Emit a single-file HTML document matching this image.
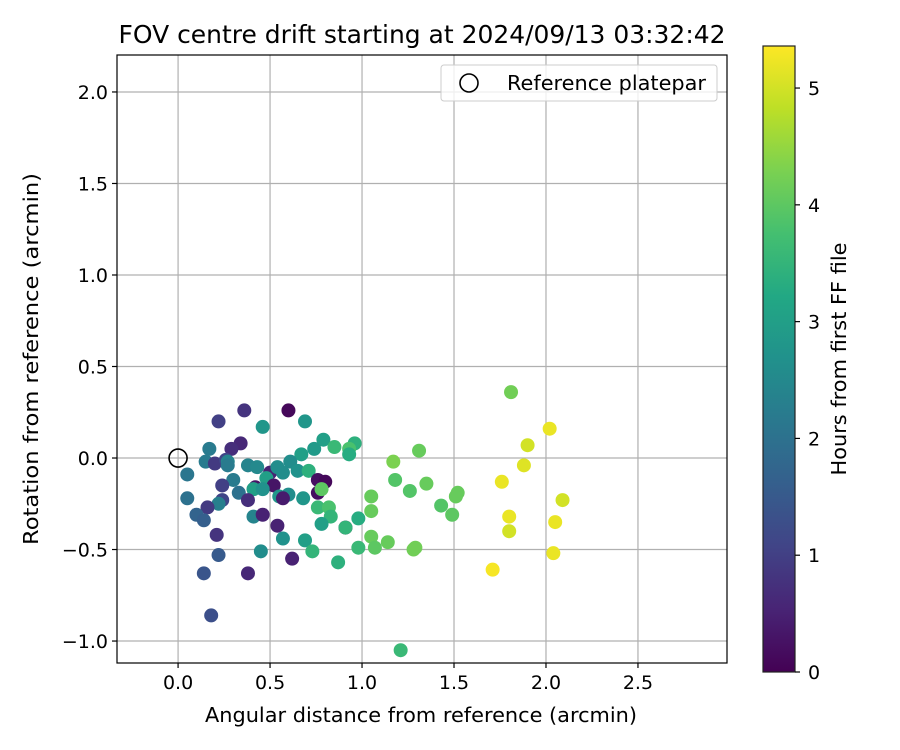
<!DOCTYPE html>
<html><head><meta charset="utf-8">
<style>
html,body{margin:0;padding:0;background:#fff;}
svg{display:block;font-family:"DejaVu Sans","Liberation Sans",sans-serif;}
</style></head>
<body>
<svg id="chart" width="900" height="750" viewBox="0 0 900 750" xmlns="http://www.w3.org/2000/svg">
<defs>
<linearGradient id="viridis" x1="0" y1="1" x2="0" y2="0">
<stop offset="0" stop-color="#440154"/><stop offset="0.1" stop-color="#482475"/><stop offset="0.2" stop-color="#414487"/><stop offset="0.3" stop-color="#355f8d"/><stop offset="0.4" stop-color="#2a788e"/><stop offset="0.5" stop-color="#21918c"/><stop offset="0.6" stop-color="#22a884"/><stop offset="0.7" stop-color="#44bf70"/><stop offset="0.8" stop-color="#7ad151"/><stop offset="0.9" stop-color="#bddf26"/><stop offset="1" stop-color="#fde725"/>
</linearGradient>
<clipPath id="plotclip"><rect x="117" y="55" width="610" height="608"/></clipPath>
</defs>
<text x="422" y="43" font-size="25" text-anchor="middle" textLength="607" lengthAdjust="spacingAndGlyphs">FOV centre drift starting at 2024/09/13 03:32:42</text>
<g id="grid"></g>
<g id="points" clip-path="url(#plotclip)"></g>
<rect x="117" y="55" width="610" height="608" fill="none" stroke="#000" stroke-width="1.2"/>
<g id="ticks"></g>
<text x="421" y="722" font-size="20.5" text-anchor="middle" textLength="432" lengthAdjust="spacingAndGlyphs">Angular distance from reference (arcmin)</text>
<text transform="translate(38,359) rotate(-90)" font-size="20.5" text-anchor="middle" textLength="372" lengthAdjust="spacingAndGlyphs">Rotation from reference (arcmin)</text>
<g>
<rect x="441" y="65" width="276" height="36" rx="3" fill="#fff" fill-opacity="0.8" stroke="#ccc"/>
<circle cx="469" cy="83" r="9" fill="none" stroke="#000" stroke-width="1.6"/>
<text x="507" y="90" font-size="20" textLength="199" lengthAdjust="spacingAndGlyphs">Reference platepar</text>
</g>
<g>
<rect x="763" y="46" width="32" height="626" fill="url(#viridis)" stroke="#222" stroke-width="1.2"/>
</g>
<g id="cbticks"></g>
<text transform="translate(846,359) rotate(-90)" font-size="20.5" text-anchor="middle" textLength="233" lengthAdjust="spacingAndGlyphs">Hours from first FF file</text>
</svg>
<script>
const xValues=[0.36,0.60,0.22,0.46,0.69,0.34,0.29,0.17,0.79,0.85,0.96,0.93,0.93,0.67,0.74,0.15,0.20,0.26,0.27,0.27,0.05,0.38,0.43,0.50,0.54,0.61,0.57,0.65,0.71,0.76,0.80,0.76,0.78,0.48,0.52,0.42,0.41,0.46,0.30,0.24,0.33,0.38,0.55,0.60,0.57,0.68,0.05,0.24,0.22,0.16,0.10,0.14,0.41,0.46,0.76,0.82,0.83,1.05,1.05,0.98,0.78,0.91,0.91,0.54,0.57,0.21,0.69,0.73,1.05,0.98,1.07,0.87,0.45,0.62,0.22,0.14,0.38,0.18,1.81,2.02,1.90,1.31,1.17,1.88,1.76,1.18,1.26,1.35,1.52,1.51,1.43,1.49,2.09,1.80,2.05,1.80,1.14,1.29,1.28,2.04,1.71,1.21];
const yValues=[0.26,0.26,0.20,0.17,0.20,0.08,0.05,0.05,0.10,0.06,0.08,0.05,0.02,0.02,0.05,-0.02,-0.03,-0.01,-0.02,-0.04,-0.09,-0.04,-0.05,-0.08,-0.05,-0.02,-0.08,-0.07,-0.07,-0.12,-0.13,-0.19,-0.17,-0.11,-0.15,-0.16,-0.17,-0.17,-0.12,-0.15,-0.19,-0.23,-0.21,-0.20,-0.22,-0.22,-0.22,-0.23,-0.25,-0.27,-0.31,-0.34,-0.32,-0.31,-0.27,-0.27,-0.32,-0.21,-0.29,-0.33,-0.36,-0.38,-0.38,-0.37,-0.44,-0.42,-0.45,-0.51,-0.43,-0.49,-0.49,-0.57,-0.51,-0.55,-0.53,-0.63,-0.63,-0.86,0.36,0.16,0.07,0.04,-0.02,-0.04,-0.13,-0.12,-0.18,-0.14,-0.19,-0.21,-0.26,-0.31,-0.23,-0.32,-0.35,-0.40,-0.46,-0.49,-0.50,-0.52,-0.61,-1.05];
const hourValues=[0.8,0.1,1.0,2.8,2.8,0.6,0.7,2.2,3.0,3.6,3.4,3.8,3.3,3.0,2.9,2.2,0.9,1.1,2.4,2.2,2.1,2.4,2.5,0.5,2.6,2.6,2.6,2.7,3.4,0.2,0.1,0.2,4.0,3.0,0.3,0.3,3.0,2.7,2.2,1.0,2.0,0.7,2.8,2.6,0.4,2.8,2.0,1.1,2.3,0.9,1.7,1.6,2.4,0.5,3.6,3.8,3.5,4.1,4.1,3.3,3.0,0.1,3.5,0.5,2.7,0.8,3.0,3.5,4.1,3.6,4.0,3.4,2.6,0.5,1.5,1.4,0.6,1.3,4.2,5.2,5.0,4.1,4.3,5.1,5.2,3.9,3.9,4.1,4.1,4.1,3.9,4.0,5.0,5.2,5.2,5.0,4.1,4.2,4.2,5.2,5.3,3.6];
const xTicks=[0.0,0.5,1.0,1.5,2.0,2.5];
const yTicks=[-1.0,-0.5,0.0,0.5,1.0,1.5,2.0];
const cbTicks=[0,1,2,3,4,5];

const NS="http://www.w3.org/2000/svg";
const X0=117,X1=727,Y0=55,Y1=663;
const xMin=-0.332,xMax=2.984,yMin=-1.12,yMax=2.202;
const hMin=0,hMax=5.36;
function sx(v){return X0+(v-xMin)/(xMax-xMin)*(X1-X0);}
function sy(v){return Y1-(v-yMin)/(yMax-yMin)*(Y1-Y0);}
function sc(h){return 672-(h-hMin)/(hMax-hMin)*626;}
const vir=["#440154","#482475","#414487","#355f8d","#2a788e","#21918c","#22a884","#44bf70","#7ad151","#bddf26","#fde725"];
function hex(c){return [1,3,5].map(i=>parseInt(c.substr(i,2),16));}
function viridis(t){t=Math.max(0,Math.min(1,t));const p=t*10,i=Math.min(9,Math.floor(p)),f=p-i;const a=hex(vir[i]),b=hex(vir[i+1]);return "rgb("+a.map((v,k)=>Math.round(v+(b[k]-v)*f)).join(",")+")";}
function mk(tag,attrs,parent){const e=document.createElementNS(NS,tag);for(const k in attrs)e.setAttribute(k,attrs[k]);parent.appendChild(e);return e;}

const grid=document.getElementById("grid"),ticks=document.getElementById("ticks");
xTicks.forEach(t=>{
  const x=sx(t);
  const g=mk("line",{x1:x,x2:x,y1:Y0,y2:Y1,stroke:"#b0b0b0","stroke-width":1.2},grid);
  
  
  mk("line",{x1:x,x2:x,y1:Y1,y2:Y1+5,stroke:"#000","stroke-width":1.2},ticks);
  const l=mk("text",{x:x,y:Y1+26,"font-size":19,"text-anchor":"middle"},ticks);
  l.textContent=t.toFixed(1);
  
  
});
yTicks.forEach(t=>{
  const y=sy(t);
  const g=mk("line",{x1:X0,x2:X1,y1:y,y2:y,stroke:"#b0b0b0","stroke-width":1.2},grid);
  
  
  mk("line",{x1:X0-5,x2:X0,y1:y,y2:y,stroke:"#000","stroke-width":1.2},ticks);
  const l=mk("text",{x:X0-9,y:y+7,"font-size":19,"text-anchor":"end"},ticks);
  l.textContent=(t<0?"\u2212":"")+Math.abs(t).toFixed(1);
  
  
});
const pts=document.getElementById("points");
xValues.forEach((v,i)=>{
  const c=mk("circle",{cx:sx(v),cy:sy(yValues[i]),r:7,fill:viridis((hourValues[i]-hMin)/(hMax-hMin))},pts);
  
  
});
const ref=mk("circle",{cx:sx(0),cy:sy(0),r:9,fill:"none",stroke:"#000","stroke-width":1.6},pts);


const cbt=document.getElementById("cbticks");
cbTicks.forEach(t=>{
  const y=sc(t);
  mk("line",{x1:795,x2:800,y1:y,y2:y,stroke:"#000","stroke-width":1.2},cbt);
  const l=mk("text",{x:808,y:y+7,"font-size":19},cbt);
  l.textContent=t;
  
  
});
</script>
</body></html>
